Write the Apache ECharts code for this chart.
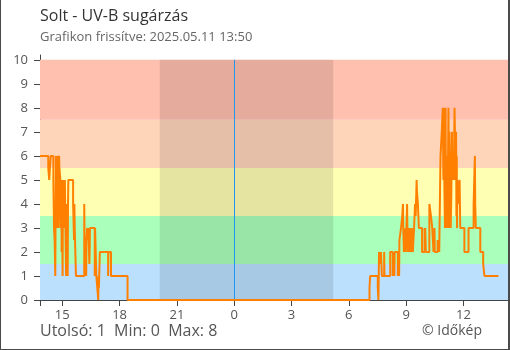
<!DOCTYPE html>
<html>
<head>
<meta charset="utf-8">
<script src="https://cdn.jsdelivr.net/npm/echarts@6/dist/echarts.min.js"></script>
<style>
  html, body { margin: 0; padding: 0; background: #fff; }
  #wrap { position: relative; width: 510px; height: 350px; }
  #chart { position: absolute; left: 0; top: 0; width: 510px; height: 350px; }
  #frame { position: absolute; left: 0; top: 0; width: 510px; height: 350px; box-sizing: border-box;
           border-left: 1px solid #4a4a4a; border-right: 2px solid #4a4a4a; border-bottom: 1px solid #4a4a4a;
           pointer-events: none; }
</style>
</head>
<body>
<div id="wrap"><div id="chart"></div><div id="frame"></div></div>
<script>
// UV-B measurements, Solt: clock time of each change and the new index value (held until the next change).
// The series starts 2025-05-10 13:50; times that go backwards roll over to the next day.
const times = [
  '13:50','14:16','14:19','14:21','14:24','14:32','14:34','14:36','14:38','14:40',
  '14:44','14:46','14:49','14:50','14:51','14:54','14:56','14:57','14:58','14:59',
  '15:01','15:02','15:03','15:04','15:05','15:06','15:07','15:08','15:09','15:12',
  '15:13','15:17','15:18','15:19','15:34','15:37','15:38','15:39','15:43','16:09',
  '16:10','16:11','16:13','16:15','16:16','16:18','16:21','16:22','16:25','16:26',
  '16:27','16:42','16:43','16:47','16:53','16:54','16:55','16:56','16:58','17:24',
  '17:25','17:33','18:25',
  '07:05','07:07','07:31','07:33','07:35','07:39','07:41','07:44','07:51','07:52',
  '08:10','08:18','08:19','08:23','08:24','08:34','08:36','08:38','08:39','08:44',
  '08:48','08:50','08:51','08:53','08:58','08:59','09:03','09:04','09:06','09:09',
  '09:11','09:12','09:16','09:19','09:21','09:25','09:28','09:30','09:33','09:34',
  '09:37','09:40','09:50','09:58','09:59','10:00','10:02','10:13','10:18','10:22',
  '10:26','10:29','10:30','10:39','10:44','10:48','10:52','10:55','10:56','10:57',
  '10:58','10:59','11:01','11:02','11:04','11:05','11:09','11:10','11:13','11:14',
  '11:16','11:20','11:22','11:24','11:25','11:28','11:30','11:32','11:36','11:37',
  '11:38','11:39','11:40','11:41','11:43','11:45','11:48','11:50','12:03','12:16',
  '12:32','12:36','12:37','12:39','12:53','13:02','13:06','13:50'
];
const uv = [
  6, 5.5, 5, 5.5, 6, 5, 3, 2.5, 1, 6,
  3, 6, 3, 6, 5.5, 5, 3, 5, 2, 5,
  1, 4.5, 5, 4, 5, 3, 4.5, 5, 4, 1,
  4, 1, 4, 5, 4, 2.5, 4, 3, 1, 4,
  2.5, 1, 2, 1, 2.5, 3, 2.5, 3, 1.5, 2,
  3, 1, 3, 1, 0, 1, 0.5, 1, 2, 1,
  2, 1, 0,
  0.5, 1, 0.5, 0, 2, 1.5, 2, 1, 2, 1,
  2, 1, 2, 1, 2, 1, 2, 1, 2.5, 3,
  3.5, 4, 3, 2, 3, 2, 4, 3, 2, 3,
  2, 3, 2, 3, 2, 3, 4, 3.5, 5, 4.5,
  4, 3, 2, 3, 2, 3, 2, 4, 3.5, 3,
  2, 3, 2, 2.5, 2, 6, 7, 8, 7, 5,
  8, 6, 4, 3, 8, 3, 6, 3, 8, 3,
  7, 3, 4.5, 7, 5, 6, 5, 8, 5, 7,
  3.5, 6, 3, 5, 4, 4.5, 5, 3, 2, 3,
  4, 6, 4, 3, 2, 1.5, 1, 1
];

// Axis window and decorations, in clock time
const axisStart = '13:50';
const axisEnd = '14:20';
const hourTicks = [15, 18, 21, 0, 3, 6, 9, 12];
const nightFrom = '20:06';
const nightTo = '05:11';
const midnight = '00:00';

// UV index bands: [from, to] and fill colour
const bandLimits = [[0, 1.5], [1.5, 3.5], [3.5, 5.5], [5.5, 7.5], [7.5, 10]];
const bandColors = ['#bbe0fe', '#aaffba', '#ffffb4', '#ffd5ba', '#ffc0b0'];

const toHours = s => { const [h, m] = s.split(':').map(Number); return h + m / 60; };

// Continuous hours counted from 2025-05-10 00:00
const points = [];
let dayOffset = 0, prev = -1;
times.forEach((t, i) => {
  const h = toHours(t);
  if (h < prev) dayOffset += 24;
  prev = h;
  points.push([h + dayOffset, uv[i]]);
});

const xMin = toHours(axisStart);
const xMax = toHours(axisEnd) + 24;
// hours before the start time belong to the second day
const tickValues = hourTicks.map(h => (h < xMin ? h + 24 : h));
const nightA = toHours(nightFrom);
const nightB = toHours(nightTo) + 24;
const midX = toHours(midnight) + 24;

const last = uv[uv.length - 1];
const minV = Math.min(...uv);
const maxV = Math.max(...uv);

const chart = echarts.init(document.getElementById('chart'), null, { renderer: 'canvas' });
const FONT = '"Open Sans", "Noto Sans", sans-serif';

chart.setOption({
  animation: false,
  textStyle: { fontFamily: FONT },
  grid: { left: 40, right: 2, top: 55, bottom: 50 },
  graphic: [
    { type: 'text', left: 40, top: 8, style: { text: 'Solt - UV-B sugárzás', font: '16px ' + FONT, fill: '#333' } },
    { type: 'text', left: 40, top: 31, style: { text: 'Grafikon frissítve: 2025.05.11 13:50', font: '13px ' + FONT, fill: '#666' } },
    { type: 'text', left: 40, top: 323, style: { text: 'Utolsó: ' + last + '  Min: ' + minV + '  Max: ' + maxV, font: '16px ' + FONT, fill: '#555' } },
    { type: 'text', right: 28, top: 324, style: { text: '© Időkép', font: '14px ' + FONT, fill: '#555' } }
  ],
  xAxis: {
    type: 'value',
    min: xMin,
    max: xMax,
    axisLine: { show: true, onZero: false, lineStyle: { color: '#444', width: 1 } },
    axisTick: { show: true, length: 6, customValues: [xMin].concat(tickValues), lineStyle: { color: '#444' } },
    axisLabel: { customValues: tickValues, formatter: v => String(Math.round(v) % 24), color: '#555', fontSize: 13, margin: 9, fontFamily: FONT },
    splitLine: { show: false }
  },
  yAxis: {
    type: 'value',
    min: 0,
    max: 10.2,
    axisLine: { show: true, lineStyle: { color: '#444', width: 1 } },
    axisTick: { show: true, length: 6, customValues: [0,1,2,3,4,5,6,7,8,9,10], lineStyle: { color: '#444' } },
    axisLabel: { customValues: [0,1,2,3,4,5,6,7,8,9,10], color: '#555', fontSize: 13, margin: 12, fontFamily: FONT },
    splitLine: { show: false }
  },
  series: [
    {
      name: 'bands', type: 'line', data: [], silent: true, z: 1,
      markArea: {
        silent: true,
        data: bandLimits.map((b, i) => [
          { yAxis: b[0], itemStyle: { color: bandColors[i] } },
          { yAxis: b[1] }
        ])
      }
    },
    {
      name: 'night', type: 'line', data: [], silent: true, z: 2,
      markArea: {
        silent: true,
        itemStyle: { color: 'rgba(0,0,0,0.1)' },
        data: [[{ xAxis: nightA, yAxis: 0 }, { xAxis: nightB, yAxis: 10 }]]
      },
      markLine: {
        silent: true, symbol: 'none', label: { show: false },
        lineStyle: { color: '#2196f0', width: 1, type: 'solid' },
        data: [[{ coord: [midX, 0] }, { coord: [midX, 10] }]]
      }
    },
    {
      name: 'UV-B', type: 'line', step: 'end', z: 5,
      data: points,
      showSymbol: false, symbol: 'none',
      lineStyle: { color: '#ff8000', width: 2 },
      clip: true
    }
  ]
});
</script>
</body>
</html>
